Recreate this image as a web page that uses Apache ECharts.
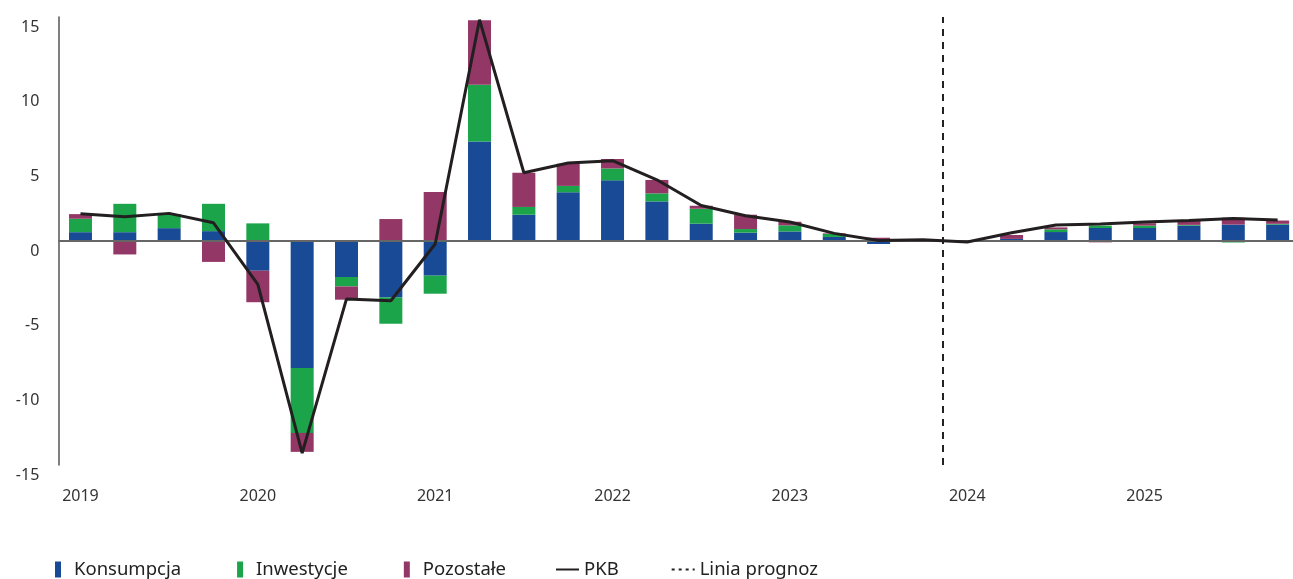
<!DOCTYPE html>
<html>
<head>
<meta charset="utf-8">
<title>PKB</title>
<script src="https://cdn.jsdelivr.net/npm/echarts@6/dist/echarts.min.js"></script>
<style>
  html, body { margin: 0; padding: 0; background: #fff; }
  #chart { width: 1293px; height: 579px; }
</style>
</head>
<body>
<div id="chart"></div>
<script>
  // kwartały 2019-2025
  var years = ['2019', '2020', '2021', '2022', '2023', '2024', '2025'];
  var quarters = [];
  years.forEach(function (y) {
    ['Q1', 'Q2', 'Q3', 'Q4'].forEach(function (q) { quarters.push(y + ' ' + q); });
  });

  var konsumpcja = [0.59, 0.59, 0.86, 0.66, -1.99, -8.5, -2.41, -3.78, -2.32, 6.67, 1.76, 3.26, 4.06, 2.65,
    1.16, 0.56, 0.64, 0.27, -0.2, 0.05, 0.02, 0.14, 0.6, 0.87, 0.87, 1.03, 1.1, 1.1];
  var inwestycje = [0.9, 1.9, 0.94, 1.83, 1.18, -4.35, -0.63, -1.76, -1.21, 3.8, 0.52, 0.43, 0.8, 0.54,
    1.0, 0.24, 0.41, 0.2, 0.05, 0, 0, 0, 0.18, 0.16, 0.16, 0.05, -0.1, 0.05];
  var pozostale = [0.31, -0.9, 0, -1.4, -2.11, -1.27, -0.89, 1.47, 3.28, 4.31, 2.29, 1.48, 0.63, 0.9,
    0.2, 0.96, 0.24, 0.04, 0.17, 0, 0, 0.26, 0.13, -0.09, 0.16, 0.3, 0.46, 0.22];
  var pkb = [1.82, 1.62, 1.85, 1.22, -2.91, -14.2, -3.88, -4.0, -0.2, 14.82, 4.57, 5.22, 5.38, 4.1,
    2.38, 1.69, 1.27, 0.51, 0.04, 0.09, -0.07, 0.55, 1.07, 1.14, 1.27, 1.38, 1.51, 1.41];
  var yTicks = [-15, -10, -5, 0, 5, 10, 15];
  var forecastAt = 19.45; // linia prognoz (pozycja w kwartałach)

  var font = 'Noto Sans';
  var myChart = echarts.init(document.getElementById('chart'));

  function bar(name, color, data) {
    return {
      name: name,
      type: 'bar',
      stack: 'pkb',
      barWidth: 23,
      itemStyle: { color: color },
      data: data
    };
  }

  var bars = [
    bar('Konsumpcja', '#184a96', konsumpcja),
    bar('Inwestycje', '#1ba44a', inwestycje),
    bar('Pozostałe', '#933766', pozostale)
  ];
  // linia zero
  bars[0].markLine = {
    silent: true,
    symbol: 'none',
    label: { show: false },
    lineStyle: { color: '#666', width: 2, type: 'solid' },
    data: [{ yAxis: 0 }]
  };

  myChart.setOption({
    animation: false,
    backgroundColor: '#fff',
    textStyle: { fontFamily: font },
    grid: { left: 58.3, right: -6.8, top: 17, bottom: 114, outerBoundsMode: 'none' },
    legend: [{
      left: 55,
      top: 560,
      padding: 0,
      icon: 'rect',
      itemWidth: 6,
      itemHeight: 16,
      itemGap: 56,
      textStyle: { fontSize: 18.5, color: '#222', padding: [0, 0, 0, 8] },
      data: ['Konsumpcja', 'Inwestycje', 'Pozostałe']
    }, {
      left: 555,
      top: 560,
      padding: 0,
      itemWidth: 23,
      itemHeight: 16,
      itemGap: 52,
      textStyle: { fontSize: 18.5, color: '#222' },
      data: [
        { name: 'PKB', itemStyle: { opacity: 0 } },
        { name: 'Linia prognoz', itemStyle: { opacity: 0 } }
      ]
    }],
    xAxis: [{
      type: 'category',
      data: quarters,
      axisLine: { show: false },
      axisTick: { show: false },
      axisLabel: {
        interval: 0,
        margin: 23,
        fontSize: 16,
        color: '#333',
        formatter: function (v) { return v.slice(-2) === 'Q1' ? v.slice(0, 4) : ''; }
      }
    }, {
      type: 'value',
      min: -0.5,
      max: quarters.length - 0.5,
      show: false
    }],
    yAxis: {
      type: 'value',
      min: yTicks[0],
      max: yTicks[yTicks.length - 1],
      interval: 5,
      axisLine: { show: true, onZero: false, lineStyle: { color: '#555', width: 1.5 } },
      axisTick: { show: false },
      splitLine: { show: false },
      axisLabel: {
        margin: 19,
        fontSize: 16,
        color: '#333',
        verticalAlign: 'top',
        padding: [2, 0, 0, 0]
      }
    },
    series: bars.concat([{
      name: 'PKB',
      type: 'line',
      symbol: 'none',
      z: 5,
      lineStyle: { color: '#231f20', width: 3 },
      itemStyle: { color: '#231f20' },
      data: pkb
    }, {
      name: 'Linia prognoz',
      type: 'line',
      xAxisIndex: 1,
      symbol: 'none',
      lineStyle: { color: '#222', width: 2.5, type: [3, 4] },
      itemStyle: { color: '#222' },
      data: [],
      markLine: {
        silent: true,
        symbol: 'none',
        label: { show: false },
        lineStyle: { color: '#222', width: 2, type: [7, 6] },
        data: [{ xAxis: forecastAt }]
      }
    }])
  });
</script>
</body>
</html>
